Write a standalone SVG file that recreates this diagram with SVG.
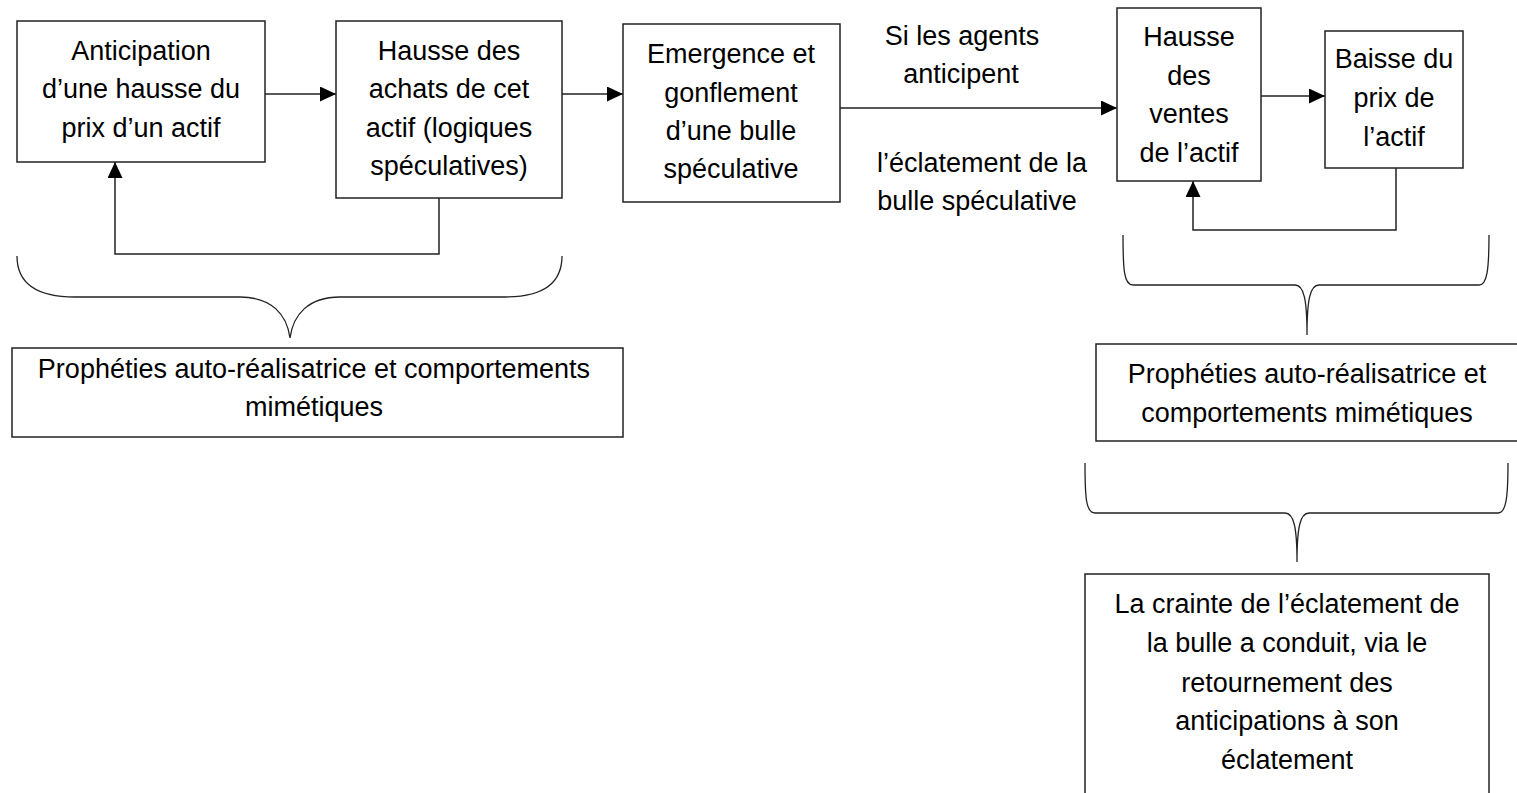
<svg xmlns="http://www.w3.org/2000/svg" width="1517" height="793" viewBox="0 0 1517 793">
  <style>
    .box { fill: #ffffff; stroke: #222222; stroke-width: 1.5; }
    .t { font-family: "Liberation Sans", Arial, sans-serif; font-size: 27px; fill: #000000; text-anchor: middle; }
    .conn { fill: none; stroke: #222222; stroke-width: 1.5; }
    .brace { fill: none; stroke: #222222; stroke-width: 1.3; }
  </style>
  <defs>
    <marker id="arrow" markerUnits="userSpaceOnUse" markerWidth="17" markerHeight="15" refX="16" refY="7.5" orient="auto">
      <path d="M0,0 L16,7.5 L0,15 Z" fill="#000000"/>
    </marker>
  </defs>
  <rect width="1517" height="793" fill="#ffffff"/>

  <g id="connectors">
    <path class="conn" d="M265,94 L336,94" marker-end="url(#arrow)"/>
    <path class="conn" d="M562,94 L623,94" marker-end="url(#arrow)"/>
    <path class="conn" d="M840,108 L1117,108" marker-end="url(#arrow)"/>
    <path class="conn" d="M1261,96 L1325,96" marker-end="url(#arrow)"/>
    <path class="conn" d="M439,198 L439,254 L115,254 L115,162" marker-end="url(#arrow)"/>
    <path class="conn" d="M1396,168 L1396,230 L1193,230 L1193,181" marker-end="url(#arrow)"/>
  </g>

  <g id="braces">
    <path class="brace" d="M17,256 C17,282 35,297 75,297 L240,297 C272,297 287,315 290,338 C293,315 308,297 340,297 L505,297 C545,297 562,282 562,256"/>
    <path class="brace" d="M1123,235 C1123,270 1124,285 1133,285 L1295,285 C1304,285 1307,300 1307,335 C1307,300 1310,285 1319,285 L1479,285 C1487,285 1489,270 1489,235"/>
    <path class="brace" d="M1085,463 C1085,498 1086,513 1095,513 L1285,513 C1294,513 1297,528 1297,562 C1297,528 1300,513 1309,513 L1498,513 C1506,513 1508,498 1508,463"/>
  </g>

  <g id="n1">
    <rect class="box" x="17" y="21" width="248" height="141"/>
    <text class="t" x="141" y="60">Anticipation</text>
    <text class="t" x="141" y="98">d’une hausse du</text>
    <text class="t" x="141" y="137">prix d’un actif</text>
  </g>

  <g id="n2">
    <rect class="box" x="336" y="21" width="226" height="177"/>
    <text class="t" x="449" y="60">Hausse des</text>
    <text class="t" x="449" y="98">achats de cet</text>
    <text class="t" x="449" y="137">actif (logiques</text>
    <text class="t" x="449" y="175">spéculatives)</text>
  </g>

  <g id="n3">
    <rect class="box" x="623" y="24" width="217" height="178"/>
    <text class="t" x="731" y="63">Emergence et</text>
    <text class="t" x="731" y="102">gonflement</text>
    <text class="t" x="731" y="140">d’une bulle</text>
    <text class="t" x="731" y="178">spéculative</text>
  </g>

  <g id="label-condition">
    <text class="t" x="962" y="45">Si les agents</text>
    <text class="t" x="961" y="83">anticipent</text>
    <text class="t" x="982" y="172">l’éclatement de la</text>
    <text class="t" x="977" y="210">bulle spéculative</text>
  </g>

  <g id="n4">
    <rect class="box" x="1117" y="8" width="144" height="173"/>
    <text class="t" x="1189" y="46">Hausse</text>
    <text class="t" x="1189" y="85">des</text>
    <text class="t" x="1189" y="123">ventes</text>
    <text class="t" x="1189" y="162">de l’actif</text>
  </g>

  <g id="n5">
    <rect class="box" x="1325" y="31" width="138" height="137"/>
    <text class="t" x="1394" y="68">Baisse du</text>
    <text class="t" x="1394" y="107">prix de</text>
    <text class="t" x="1394" y="146">l’actif</text>
  </g>

  <g id="n6">
    <rect class="box" x="12" y="348" width="611" height="89"/>
    <text class="t" x="314" y="378">Prophéties auto-réalisatrice et comportements</text>
    <text class="t" x="314" y="416">mimétiques</text>
  </g>

  <g id="n7">
    <rect class="box" x="1096" y="344" width="430" height="97"/>
    <text class="t" x="1307" y="383">Prophéties auto-réalisatrice et</text>
    <text class="t" x="1307" y="422">comportements mimétiques</text>
  </g>

  <g id="n8">
    <rect class="box" x="1085" y="574" width="404" height="230"/>
    <text class="t" x="1287" y="613">La crainte de l’éclatement de</text>
    <text class="t" x="1287" y="652">la bulle a conduit, via le</text>
    <text class="t" x="1287" y="692">retournement des</text>
    <text class="t" x="1287" y="730">anticipations à son</text>
    <text class="t" x="1287" y="769">éclatement</text>
  </g>
</svg>
